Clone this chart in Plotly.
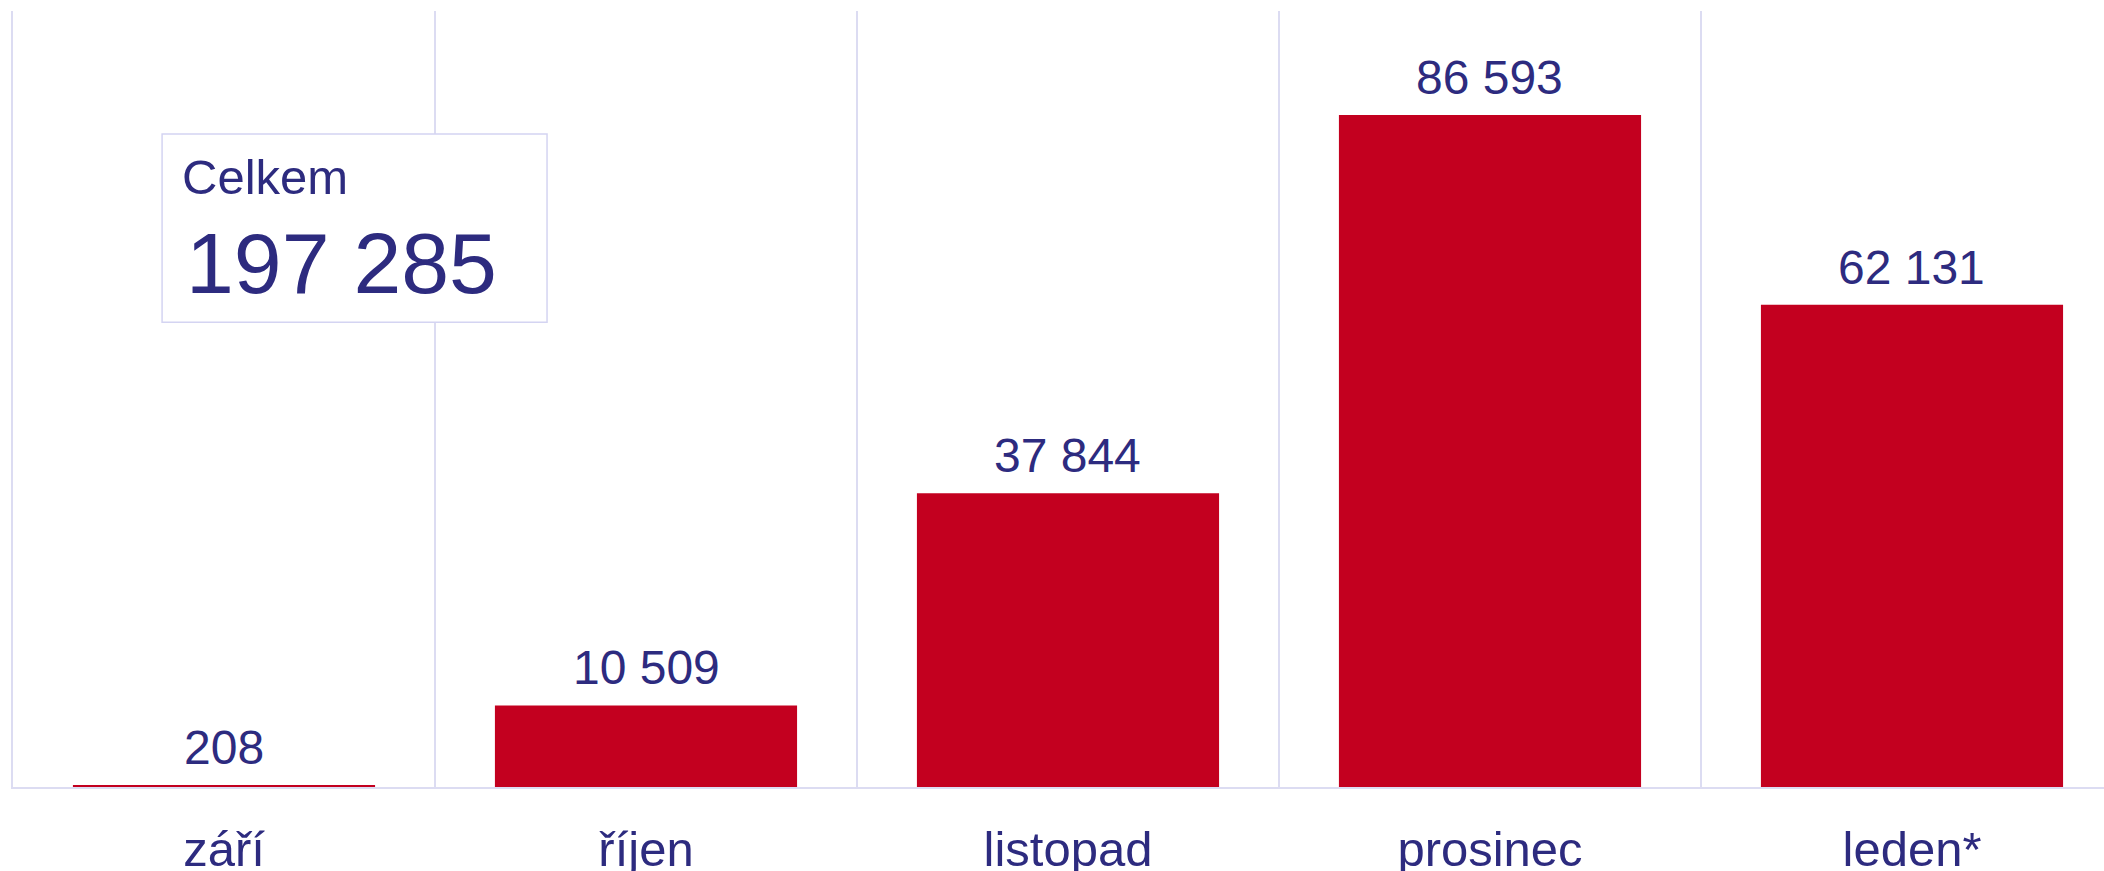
import plotly.graph_objects as go

# data
months = ["září", "říjen", "listopad", "prosinec", "leden*"]
values = [208, 10509, 37844, 86593, 62131]
total_label = "Celkem"
total_value = 197285

BAR = "#c3001f"
TEXT = "#2d2b7f"
GRID = "#dcdcf2"
FONT = "Liberation Sans, Arial, sans-serif"


def fmt(v):
    return f"{v:,}".replace(",", " ")


fig = go.Figure(
    go.Bar(
        x=months,
        y=values,
        width=0.716,
        marker=dict(color=BAR, line=dict(width=0)),
        hoverinfo="skip",
    )
)

# value labels above bars
for m, v in zip(months, values):
    fig.add_annotation(
        x=m, y=v, text=fmt(v), showarrow=False,
        yanchor="bottom", yshift=9,
        font=dict(size=48, color=TEXT, family=FONT),
    )

# total box
fig.add_shape(
    type="rect", xref="paper", yref="paper",
    x0=0.0713, x1=0.2554, y0=0.599, y1=0.8415,
    fillcolor="white", line=dict(color="#d4d4f2", width=1.5),
    layer="above",
)
fig.add_annotation(
    xref="paper", yref="paper", x=0.0800, y=0.786,
    xanchor="left", yanchor="middle", showarrow=False,
    text=total_label, font=dict(size=49, color=TEXT, family=FONT),
)
fig.add_annotation(
    xref="paper", yref="paper", x=0.0820, y=0.675,
    xanchor="left", yanchor="middle", showarrow=False,
    text=fmt(total_value), font=dict(size=86, color=TEXT, family=FONT),
)

fig.update_layout(
    width=2104, height=871,
    margin=dict(l=13, r=0, t=11, b=84, autoexpand=False),
    plot_bgcolor="white", paper_bgcolor="white",
    showlegend=False,
    font=dict(family=FONT, color=TEXT),
)
fig.update_xaxes(
    type="category",
    range=[-0.5, 4.455],
    automargin=False,
    tickson="boundaries",
    ticks="",
    showgrid=True, gridcolor=GRID, gridwidth=1.5,
    showline=True, linecolor=GRID, linewidth=1.5,
    tickfont=dict(size=49, color=TEXT, family=FONT),
    ticklabelstandoff=18,
)
fig.update_yaxes(
    range=[0, 100000],
    automargin=False,
    showgrid=False, zeroline=False, showticklabels=False,
    showline=True, linecolor=GRID, linewidth=1.5,
)

# drop the default body margin so the figure fills the window exactly
fig.write_html(
    "out.html",
    config={"displayModeBar": False},
    post_script="document.body.style.margin='0';document.body.style.overflow='hidden';",
)
